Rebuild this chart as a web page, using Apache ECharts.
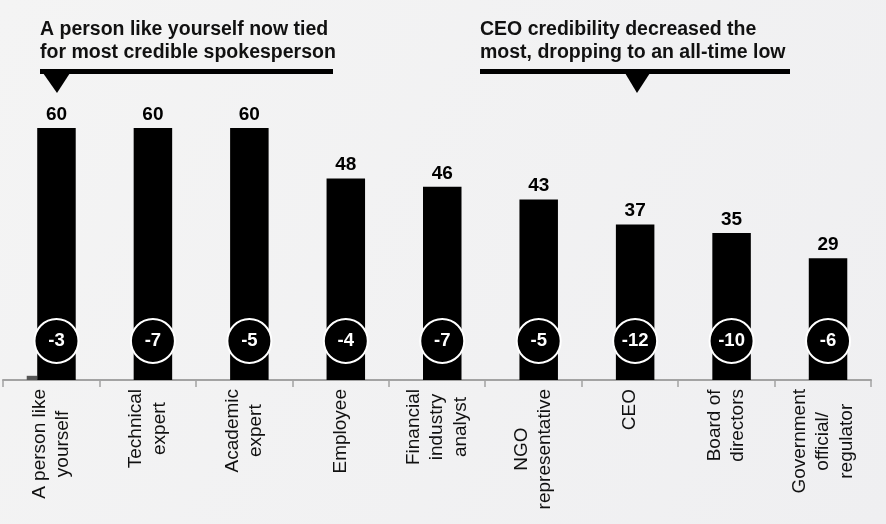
<!DOCTYPE html>
<html>
<head>
<meta charset="utf-8">
<script src="https://cdn.jsdelivr.net/npm/echarts@6/dist/echarts.min.js"></script>
<style>
html,body{margin:0;padding:0;background:#f3f3f3;}
#chart{width:886px;height:524px;}
</style>
</head>
<body>
<div id="chart"></div>
<script>
const categories = ['A person like\nyourself', 'Technical\nexpert', 'Academic\nexpert', 'Employee', 'Financial\nindustry\nanalyst', 'NGO\nrepresentative', 'CEO', 'Board of\ndirectors', 'Government\nofficial/\nregulator'];
const credibility = [60, 60, 60, 48, 46, 43, 37, 35, 29];
const changes = [-3, -7, -5, -4, -7, -5, -12, -10, -6];
const smallBar = [1, '-', '-', '-', '-', '-', '-', '-', '-'];
const title1 = 'A person like yourself now tied\nfor most credible spokesperson';
const title2 = 'CEO credibility decreased the\nmost, dropping to an all-time low';

const FONT = '"Liberation Sans", Arial, Helvetica, sans-serif';
const chart = echarts.init(document.getElementById('chart'));

chart.setOption({
  backgroundColor: {
    type: 'linear', x: 0, y: 0, x2: 1, y2: 1,
    colorStops: [{offset: 0, color: '#f4f4f4'}, {offset: 1, color: '#efeff1'}]
  },
  animation: false,
  textStyle: {fontFamily: FONT},
  grid: {left: 3, right: 15, top: 86, bottom: 144, containLabel: false},
  xAxis: {
    type: 'category',
    data: categories,
    axisLine: {lineStyle: {color: '#a3a3a3', width: 2}},
    axisTick: {show: true, length: 7, lineStyle: {color: '#a3a3a3', width: 1.5}},
    axisLabel: {
      interval: 0,
      rotate: 90,
      margin: 9,
      color: '#111',
      fontFamily: FONT,
      fontSize: 19,
      lineHeight: 23.5,
      formatter: function (v) {
        return v.split('\n').map(function (l) { return '{a|' + l + '}'; }).join('\n');
      },
      rich: {a: {align: 'center', fontSize: 19, lineHeight: 23.5, fontFamily: FONT, color: '#111'}}
    }
  },
  yAxis: {type: 'value', min: 0, max: 70, show: false, splitLine: {show: false}},
  series: [
    {
      type: 'bar',
      data: smallBar,
      barWidth: 10.5,
      barGap: '0%',
      itemStyle: {color: '#555'},
      silent: true
    },
    {
      type: 'bar',
      data: credibility,
      barWidth: 38.5,
      barGap: '0%',
      itemStyle: {color: '#000'},
      label: {
        show: true,
        position: 'top',
        distance: 4,
        color: '#000',
        fontFamily: FONT,
        fontWeight: 'bold',
        fontSize: 19
      },
      markPoint: {
        symbol: 'circle',
        symbolSize: 44,
        symbolOffset: [0, -39],
        itemStyle: {color: '#000', borderColor: '#fff', borderWidth: 2},
        label: {
          show: true,
          position: 'inside',
          color: '#fff',
          fontFamily: FONT,
          fontWeight: 'bold',
          fontSize: 18.5,
          formatter: '{c}'
        },
        data: changes.map(function (c, i) { return {coord: [i, 0], value: c}; })
      }
    }
  ],
  graphic: [
    {type: 'text', left: 40, top: 18, style: {text: title1, font: 'bold 19.5px ' + FONT, lineHeight: 23, fill: '#111'}},
    {type: 'rect', shape: {x: 40, y: 69, width: 293, height: 5}, style: {fill: '#000'}},
    {type: 'polygon', shape: {points: [[43, 73], [70, 73], [57, 93]]}, style: {fill: '#000'}},
    {type: 'text', left: 480, top: 18, style: {text: title2, font: 'bold 19.5px ' + FONT, lineHeight: 23, fill: '#111'}},
    {type: 'rect', shape: {x: 480, y: 69, width: 310, height: 5}, style: {fill: '#000'}},
    {type: 'polygon', shape: {points: [[625, 73], [650, 73], [637, 93]]}, style: {fill: '#000'}}
  ]
});
</script>
</body>
</html>
